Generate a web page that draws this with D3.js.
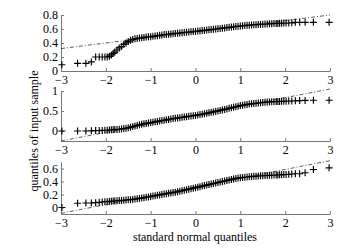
<!DOCTYPE html>
<html><head><meta charset="utf-8">
<script src="https://cdn.jsdelivr.net/npm/d3@7"></script>
<style>
html,body{margin:0;padding:0;background:#fff;}
svg text{font-family:"Liberation Serif","Times New Roman",serif;font-size:12px;fill:#000;}
</style></head>
<body>
<svg id="chart" width="355" height="252"></svg>
<script>
// theoretical standard normal quantiles (shared by the three panels)
const quantX = [-2.98,-2.63,-2.445,-2.323,-2.227,-2.147,-2.08,-2.021,-1.969,-1.92,-1.876,-1.836,
-1.80,-1.75,-1.70,-1.65,-1.60,-1.55,-1.50,-1.45,-1.40,-1.35,-1.30,-1.25,-1.20,-1.15,-1.10,-1.05,-1.00,
-0.95,-0.90,-0.85,-0.80,-0.75,-0.70,-0.65,-0.60,-0.55,-0.50,-0.45,-0.40,-0.35,-0.30,-0.25,-0.20,-0.15,-0.10,-0.05,
0,0.05,0.10,0.15,0.20,0.25,0.30,0.35,0.40,0.45,0.50,0.55,0.60,0.65,0.70,0.75,0.80,0.85,0.90,0.95,
1.00,1.05,1.10,1.15,1.20,1.25,1.30,1.35,1.40,1.45,1.50,1.55,1.60,1.65,1.70,1.75,1.80,
1.836,1.876,1.92,1.969,2.021,2.08,2.147,2.227,2.323,2.445,2.63,2.98];

const sample1 = [0.09,0.11,0.11,0.13,0.20,0.20,0.20,0.20,0.20,0.21,0.23,0.25,
0.27,0.30,0.33,0.35,0.38,0.40,0.42,0.44,0.45,0.46,0.465,0.47,0.475,0.48,0.485,0.49,0.49,
0.495,0.50,0.505,0.51,0.515,0.52,0.522,0.525,0.53,0.533,0.537,0.54,0.543,0.547,0.55,0.553,0.556,0.56,0.563,
0.566,0.57,0.573,0.577,0.58,0.584,0.588,0.592,0.596,0.60,0.604,0.608,0.612,0.616,0.62,0.624,0.628,0.632,0.636,0.64,
0.643,0.646,0.649,0.652,0.655,0.657,0.66,0.662,0.664,0.666,0.668,0.67,0.672,0.674,0.676,0.678,0.68,
0.68,0.681,0.682,0.684,0.685,0.686,0.688,0.695,0.695,0.695,0.695,0.695];

const sample2 = [0.0,0.0,0.0,0.005,0.01,0.01,0.015,0.02,0.02,0.025,0.03,0.03,
0.035,0.04,0.045,0.05,0.06,0.07,0.08,0.095,0.11,0.125,0.14,0.155,0.17,0.18,0.19,0.20,0.21,
0.22,0.23,0.24,0.25,0.26,0.27,0.28,0.29,0.30,0.31,0.318,0.326,0.334,0.342,0.35,0.358,0.366,0.374,0.382,
0.39,0.40,0.41,0.42,0.43,0.442,0.454,0.466,0.478,0.49,0.502,0.515,0.528,0.54,0.553,0.566,0.58,0.594,0.607,0.62,
0.635,0.645,0.655,0.664,0.672,0.68,0.687,0.694,0.70,0.706,0.712,0.717,0.722,0.726,0.73,0.733,0.736,
0.738,0.74,0.742,0.744,0.746,0.748,0.75,0.755,0.76,0.765,0.77,0.77];

const sample3 = [0.0,0.065,0.07,0.07,0.075,0.08,0.085,0.09,0.09,0.095,0.095,0.10,
0.10,0.103,0.106,0.109,0.112,0.115,0.118,0.121,0.125,0.13,0.135,0.14,0.145,0.15,0.157,0.163,0.17,
0.176,0.182,0.188,0.194,0.20,0.206,0.212,0.218,0.224,0.23,0.236,0.242,0.25,0.257,0.265,0.273,0.281,0.289,0.297,
0.305,0.313,0.321,0.329,0.337,0.345,0.353,0.361,0.369,0.377,0.385,0.393,0.40,0.408,0.416,0.424,0.432,0.44,0.447,0.453,
0.458,0.462,0.466,0.47,0.473,0.476,0.479,0.482,0.485,0.487,0.489,0.491,0.493,0.495,0.497,0.499,0.50,
0.50,0.502,0.504,0.506,0.508,0.51,0.515,0.52,0.52,0.535,0.585,0.61];

// reference lines: sample value at x = -3 and x = 3
const refX = [-3, 3];
const ref1 = [0.32, 0.80];
const ref2 = [-0.25, 1.05];
const ref3 = [-0.09, 0.72];

const xTicks = [-3,-2,-1,0,1,2,3];
const yTicks1 = [0,0.2,0.4,0.6,0.8];
const yTicks2 = [0,0.5,1];
const yTicks3 = [0,0.2,0.4,0.6];
const yDomain1 = [0,0.8];
const yDomain2 = [-0.25,1];
const yDomain3 = [-0.1,0.7];

const svg = d3.select("#chart");
const x = d3.scaleLinear().domain([-3,3]).range([61,330]);

const panels = [
  {sample: sample1, ref: ref1, ticks: yTicks1, dom: yDomain1, top: 15, bottom: 71},
  {sample: sample2, ref: ref2, ticks: yTicks2, dom: yDomain2, top: 91, bottom: 141},
  {sample: sample3, ref: ref3, ticks: yTicks3, dom: yDomain3, top: 162, bottom: 214}
];

const fmtX = d3.format("d");
panels.forEach(p => {
  const y = d3.scaleLinear().domain(p.dom).range([p.bottom, p.top]);
  const g = svg.append("g");

  const ax = g.append("g").attr("transform", `translate(0,${p.bottom})`)
    .call(d3.axisBottom(x).tickValues(xTicks).tickSizeInner(-3).tickSizeOuter(0).tickPadding(4).tickFormat(fmtX));
  const ay = g.append("g").attr("transform", `translate(61,0)`)
    .call(d3.axisLeft(y).tickValues(p.ticks).tickSizeInner(-3).tickSizeOuter(0).tickPadding(3).tickFormat(d => String(d)));
  [ax, ay].forEach(a => {
    a.select(".domain").attr("stroke", "#777");
    a.selectAll(".tick line").attr("stroke", "#777");
    a.selectAll("text").attr("font-family", "Liberation Serif, serif").attr("font-size", 12).attr("fill", "#000");
  });

  // reference line
  g.append("path")
    .attr("d", d3.line().x((d,i) => x(refX[i])).y(d => y(d))(p.ref))
    .attr("fill", "none").attr("stroke", "#333").attr("stroke-width", 0.8)
    .attr("stroke-dasharray", "4,2,1,2");

  // '+' markers
  const s = 3.5;
  g.append("path")
    .attr("d", p.sample.map((v,i) => {
      const cx = x(quantX[i]), cy = y(v);
      return `M${cx - s},${cy}H${cx + s}M${cx},${cy - s}V${cy + s}`;
    }).join(""))
    .attr("fill", "none").attr("stroke", "#000").attr("stroke-width", 1.15);
});

svg.append("text").attr("x", 195).attr("y", 241).attr("text-anchor", "middle")
  .text("standard normal quantiles");
svg.append("text").attr("transform", "translate(38,131) rotate(-90)").attr("text-anchor", "middle")
  .text("quantiles of input sample");
</script>
</body></html>
